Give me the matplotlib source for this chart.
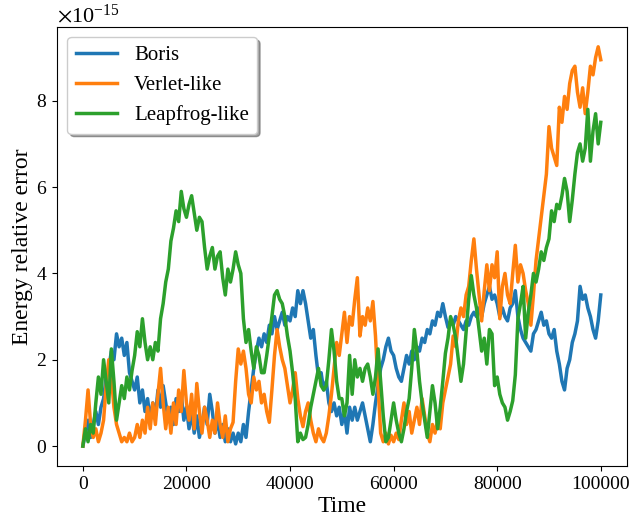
import numpy as np
import matplotlib
matplotlib.use("Agg")
import matplotlib.pyplot as plt
from matplotlib.ticker import ScalarFormatter

plt.rcParams['font.family'] = ['Liberation Serif', 'DejaVu Serif']
plt.rcParams['mathtext.fontset'] = 'stix'

# time grid: one sample every 500 steps
time = np.arange(0, 100001, 500)

# relative energy error, in units of 1e-15
boris = [
    0, 0.3, 0.6, 0.2, 0.5, 0.8, 0.5, 0.9, 1.1, 1.6,
    1.8, 2.2, 2.0, 2.6, 2.3, 2.5, 2.1, 2.4, 1.7, 1.5,
    1.3, 1.6, 1.0, 1.3, 0.8, 1.1, 0.6, 1.0, 0.7, 1.3,
    0.9, 1.4, 1.0, 0.6, 0.9, 0.5, 1.1, 0.8, 1.2, 0.6,
    0.9, 0.4, 0.8, 0.3, 0.7, 0.2, 0.5, 0.9, 0.5, 1.2,
    0.8, 0.3, 0.6, 0.2, 0.5, 0.1, 0.4, 0.1, 0.3, 0.05,
    0.3, 0.1, 0.5, 0.2, 0.8, 1.3, 1.8, 2.2, 2.5, 2.3,
    2.6, 2.4, 2.8, 2.6, 3.0, 2.7, 2.9, 3.1, 2.8, 3.0,
    2.9, 3.2, 3.0, 3.6, 3.3, 3.6, 3.3, 2.9, 2.5, 2.7,
    2.1, 1.6, 1.7, 1.3, 1.5, 1.0, 0.8, 1.0, 0.7, 0.9,
    0.5, 0.8, 0.3, 0.9, 0.6, 0.9, 0.6, 0.8, 1.0, 0.7,
    0.4, 0.1, 0.5, 1.0, 1.4, 1.8, 2.0, 2.3, 2.5, 2.2,
    2.1, 1.8, 1.6, 1.5, 1.8, 2.1, 1.9, 2.2, 2.0, 2.3,
    2.2, 2.5, 2.4, 2.7, 2.6, 2.9, 2.8, 3.1, 3.0, 3.3,
    3.0, 2.75, 2.9, 2.8, 3.0, 2.9, 2.8, 2.7, 2.9, 2.8,
    3.0, 3.1, 3.0, 3.2, 3.0, 3.3, 3.5, 3.7, 3.4, 3.5,
    3.3, 3.0, 3.2, 3.0, 2.9, 3.2, 3.3, 3.6, 3.0, 2.7,
    2.5, 2.4, 2.3, 2.2, 2.6, 2.7, 2.9, 3.1, 2.8, 2.9,
    2.6, 2.5, 2.7, 2.2, 1.9, 1.5, 1.3, 1.8, 2.0, 2.4,
    2.6, 2.9, 3.7, 3.4, 3.5, 3.2, 3.0, 2.7, 2.5, 2.9,
    3.5,
]

verlet = [
    0, 0.6, 1.3, 0.5, 0.2, 0.4, 0.1, 0.3, 0.6, 1.4,
    2.0, 1.6, 0.9, 0.5, 0.3, 0.1, 0.2, 0.1, 0.3, 0.1,
    0.2, 0.5, 0.2, 0.6, 0.3, 0.9, 0.4, 1.0, 0.5, 1.2,
    1.8, 1.0, 0.4, 0.9, 0.3, 1.0, 0.5, 1.3, 0.8, 1.75,
    1.0, 0.6, 1.2, 0.4, 1.45, 0.8, 0.3, 0.9, 0.6, 0.2,
    0.6, 0.3, 1.0, 0.5, 0.2, 0.7, 0.1, 0.4, 0.55, 1.5,
    2.25, 1.9, 2.2, 1.8, 1.2, 1.0, 1.6, 1.3, 1.5, 1.0,
    1.2, 0.8, 0.55, 1.3, 2.1, 2.7, 2.3, 2.0, 1.8, 1.4,
    1.0, 1.3, 1.7, 1.1, 0.7, 0.45, 0.8, 1.0, 0.6, 0.3,
    0.1, 0.4, 0.2, 0.1, 0.3, 0.7, 1.2, 1.8, 2.4, 2.1,
    2.6, 3.1, 2.4, 3.0, 2.8, 3.4, 3.9, 2.55, 3.0, 2.8,
    3.2, 2.9, 3.35, 2.55, 1.4, 0.3, 0.1, 0.3, 0.05, 0.25,
    0.1, 0.3, 0.15, 0.6, 1.0, 0.5, 0.8, 0.3, 0.6, 0.9,
    0.5, 1.1, 0.7, 0.3, 0.1, 0.5, 0.3, 0.6, 0.4, 1.0,
    1.3, 1.6, 1.9, 2.55, 2.3, 2.9, 3.2, 3.0, 3.5, 3.7,
    4.3, 4.8, 4.1, 3.5, 2.9, 3.6, 4.2, 3.6, 4.2, 3.9,
    4.5, 2.95, 3.7, 4.0, 3.5, 3.3, 4.0, 4.65, 3.8, 4.2,
    4.0, 3.6, 3.3, 2.8, 3.5, 4.3, 4.8, 5.3, 5.8, 6.3,
    7.4, 6.9, 6.7, 6.5, 7.85, 7.5, 8.1, 7.8, 8.4, 8.7,
    8.8, 8.2, 7.85, 8.3, 7.7, 8.2, 8.8, 8.6, 9.0, 9.25,
    8.95,
]

leapfrog = [
    0, 0.4, 0.1, 0.5, 0.3, 1.0, 1.6, 1.2, 2.0, 1.5,
    1.0, 2.25, 1.5, 0.6, 1.0, 1.4, 1.1, 1.6, 1.3, 1.75,
    2.1, 2.65, 2.3, 2.95, 2.4, 2.0, 2.3, 2.0, 2.4, 2.2,
    2.95, 3.3, 3.8, 4.1, 4.75, 5.05, 5.45, 5.2, 5.9, 5.5,
    5.3, 5.6, 5.8, 5.4, 5.0, 5.3, 5.2, 4.6, 4.1, 4.4,
    4.6, 4.1, 4.4, 4.5, 3.9, 3.5, 4.1, 3.8, 4.1, 4.5,
    4.2, 4.0, 2.95, 2.4, 2.7, 2.2, 1.8, 2.3, 2.1, 1.7,
    1.7, 2.1, 2.55, 3.0, 3.5, 3.6, 3.4, 3.3, 3.0, 2.55,
    2.2, 1.7, 1.1, 0.1, 0.3, 0.15, 0.2, 0.5, 0.9, 1.2,
    1.5, 1.8, 1.4, 1.3, 1.4, 2.0, 2.7, 2.2, 1.5, 1.1,
    1.1, 0.7, 1.0, 2.1, 1.2, 2.0, 1.6, 1.8, 1.5, 1.8,
    1.9, 1.6, 1.2, 1.6, 2.25, 1.5, 0.7, 0.1, 0.2, 0.6,
    1.0, 0.6, 0.3, 0.1, 0.4, 0.8, 1.1, 1.8, 2.7, 2.2,
    1.5, 1.0, 0.6, 0.2, 0.8, 1.4, 1.0, 0.4, 0.9, 1.5,
    2.15, 2.5, 3.0, 2.8, 2.5, 2.0, 1.5, 1.9, 2.65, 3.4,
    3.95, 3.5, 3.2, 2.7, 2.2, 2.5, 1.9, 2.7, 2.6, 1.4,
    1.6, 1.2, 1.0, 0.9, 0.6, 0.8, 1.05, 1.65, 2.95, 3.3,
    3.7, 2.5, 3.1, 3.5, 4.0, 3.8, 4.1, 4.5, 4.3, 4.6,
    4.8, 5.45, 5.2, 5.6, 5.5, 5.8, 6.2, 5.9, 5.2, 5.7,
    6.3, 6.8, 7.0, 6.6, 6.9, 7.8, 6.6, 7.3, 7.7, 7.0,
    7.5,
]

fig = plt.figure(figsize=(6.33, 5.26), dpi=100)
ax = fig.add_subplot(111)
fig.subplots_adjust(left=0.090, right=0.990, bottom=0.114, top=0.949)

ax.plot(time, np.array(boris) * 1e-15, lw=2.5, label="Boris")
ax.plot(time, np.array(verlet) * 1e-15, lw=2.5, label="Verlet-like")
ax.plot(time, np.array(leapfrog) * 1e-15, lw=2.5, label="Leapfrog-like")

fmt = ScalarFormatter(useMathText=True)
fmt.set_powerlimits((-3, 4))
ax.yaxis.set_major_formatter(fmt)

ax.set_xlabel("Time", fontsize=17, labelpad=2)
ax.set_ylabel("Energy relative error", fontsize=17, labelpad=2)
ax.tick_params(labelsize=14)
ax.yaxis.get_offset_text().set_fontsize(16)
ax.legend(loc="upper left", fontsize=15, shadow=True)

fig.savefig("out.png", dpi=100)
